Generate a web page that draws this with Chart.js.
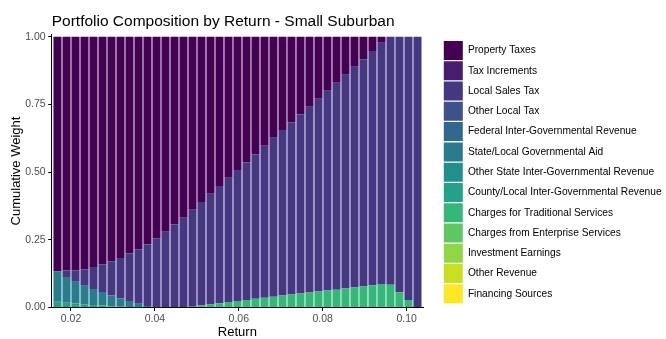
<!DOCTYPE html>
<html>
<head>
<meta charset="utf-8">
<script src="https://cdn.jsdelivr.net/npm/chart.js@4"></script>
<style>
  html, body { margin: 0; padding: 0; background: #ffffff; }
  #wrap { width: 666px; height: 339px; }
</style>
</head>
<body>
<div id="wrap"><canvas id="c" width="666" height="339"></canvas></div>
<script>
// ---- data ----
const returns = [0.01678, 0.01893, 0.02107, 0.02322, 0.02536, 0.02751, 0.02965, 0.03180, 0.03394, 0.03609,
  0.03823, 0.04038, 0.04252, 0.04467, 0.04681, 0.04896, 0.05110, 0.05325, 0.05539, 0.05754,
  0.05968, 0.06183, 0.06397, 0.06612, 0.06826, 0.07041, 0.07255, 0.07470, 0.07684, 0.07899,
  0.08113, 0.08328, 0.08542, 0.08757, 0.08971, 0.09186, 0.09400, 0.09615, 0.09829, 0.10044, 0.10258];

const categories = ["Property Taxes", "Tax Increments", "Local Sales Tax", "Other Local Tax",
  "Federal Inter-Governmental Revenue", "State/Local Governmental Aid",
  "Other State Inter-Governmental Revenue", "County/Local Inter-Governmental Revenue",
  "Charges for Traditional Services", "Charges from Enterprise Services",
  "Investment Earnings", "Other Revenue", "Financing Sources"];

const propertyTaxes = [0.867, 0.863, 0.862, 0.859, 0.850, 0.840, 0.829, 0.817, 0.800, 0.785,
  0.767, 0.744, 0.720, 0.693, 0.669, 0.639, 0.610, 0.580, 0.551, 0.521,
  0.492, 0.464, 0.434, 0.403, 0.373, 0.345, 0.316, 0.287, 0.259, 0.229,
  0.200, 0.170, 0.141, 0.111, 0.083, 0.053, 0.022, 0, 0, 0, 0];
const taxIncrements = [0,0,0,0,0,0,0,0,0,0, 0,0,0,0,0,0,0,0,0,0, 0,0,0,0,0,0,0,0,0,0, 0,0,0,0,0,0,0,0,0,0, 0];
const localSalesTax = [0, 0.024, 0.043, 0.061, 0.082, 0.103, 0.127, 0.149, 0.176, 0.201,
  0.227, 0.255, 0.280, 0.307, 0.331, 0.358, 0.383, 0.409, 0.433, 0.459,
  0.484, 0.508, 0.534, 0.561, 0.587, 0.611, 0.636, 0.661, 0.686, 0.712,
  0.737, 0.764, 0.789, 0.815, 0.839, 0.865, 0.891, 0.916, 0.944, 0.972, 1.000];
const otherLocalTax = [0,0,0,0,0,0,0,0,0,0, 0,0,0,0,0,0,0,0,0,0, 0,0,0,0,0,0,0,0,0,0, 0,0,0,0,0,0,0,0,0,0, 0];
const federalIGR = [0,0,0,0,0,0,0,0,0,0, 0,0,0,0,0,0,0,0,0,0, 0,0,0,0,0,0,0,0,0,0, 0,0,0,0,0,0,0,0,0,0, 0];
const stateLocalAid = [0.112, 0.095, 0.080, 0.068, 0.059, 0.050, 0.039, 0.031, 0.022, 0.013,
  0.006, 0.001, 0,0,0,0,0,0,0,0, 0,0,0,0,0,0,0,0,0,0, 0,0,0,0,0,0,0,0,0,0, 0];
const otherStateIGR = [0,0,0,0,0,0,0,0,0,0, 0,0,0,0,0,0,0,0,0,0, 0,0,0,0,0,0,0,0,0,0, 0,0,0,0,0,0,0,0,0,0, 0];
const countyLocalIGR = [0.021, 0.018, 0.015, 0.012, 0.009, 0.007, 0.005, 0.003, 0.002, 0.001,
  0,0,0,0,0,0,0,0,0,0, 0,0,0,0,0,0,0,0,0,0, 0,0,0,0,0,0,0,0,0,0, 0];
const chargesTraditional = [0,0,0,0,0,0,0,0,0,0, 0,0,0,0,0, 0.003, 0.007, 0.011, 0.016, 0.020,
  0.024, 0.028, 0.032, 0.036, 0.040, 0.044, 0.048, 0.052, 0.055, 0.059,
  0.063, 0.066, 0.070, 0.074, 0.078, 0.082, 0.087, 0.084, 0.056, 0.028, 0];
const chargesEnterprise = [0,0,0,0,0,0,0,0,0,0, 0,0,0,0,0,0,0,0,0,0, 0,0,0,0,0,0,0,0,0,0, 0,0,0,0,0,0,0,0,0,0, 0];
const investmentEarnings = [0,0,0,0,0,0,0,0,0,0, 0,0,0,0,0,0,0,0,0,0, 0,0,0,0,0,0,0,0,0,0, 0,0,0,0,0,0,0,0,0,0, 0];
const otherRevenue = [0,0,0,0,0,0,0,0,0,0, 0,0,0,0,0,0,0,0,0,0, 0,0,0,0,0,0,0,0,0,0, 0,0,0,0,0,0,0,0,0,0, 0];
const financingSources = [0,0,0,0,0,0,0,0,0,0, 0,0,0,0,0,0,0,0,0,0, 0,0,0,0,0,0,0,0,0,0, 0,0,0,0,0,0,0,0,0,0, 0];

const xTickValues = [0.02, 0.04, 0.06, 0.08, 0.10];
const yTickValues = [0, 0.25, 0.50, 0.75, 1.00];

// ---- styling ----
const colors = ["#440154", "#481C6E", "#453781", "#3B528B", "#31688E", "#287C8E", "#21908C",
  "#20A386", "#35B779", "#5DC863", "#8FD744", "#C8E020", "#FDE725"];
const seriesValues = [propertyTaxes, taxIncrements, localSalesTax, otherLocalTax, federalIGR,
  stateLocalAid, otherStateIGR, countyLocalIGR, chargesTraditional, chargesEnterprise,
  investmentEarnings, otherRevenue, financingSources];

const FONT = "'Liberation Sans', Arial, Helvetica, sans-serif";

// ggplot stacks the first level on top, so build datasets bottom-up
const datasets = [];
for (let k = categories.length - 1; k >= 0; k--) {
  datasets.push({
    label: categories[k],
    data: returns.map((r, i) => ({ x: r, y: seriesValues[k][i] })),
    backgroundColor: colors[k],
    borderWidth: 0,
    barPercentage: 0.9,
    categoryPercentage: 1.0
  });
}

const PLOT_LEFT = 51.7, PLOT_RIGHT = 423, PLOT_BOTTOM = 307.5;

const legendPlacer = {
  id: 'legendPlacer',
  beforeDraw(chart) {
    const lg = chart.legend;
    if (!lg) return;
    const pad = lg.options.labels.padding;
    const w = lg.width, h = lg.height;
    lg.left = 443.8 - pad; lg.right = lg.left + w;
    lg.top = 41 - pad; lg.bottom = lg.top + h;
  }
};

const chart = new Chart(document.getElementById('c'), {
  type: 'bar',
  data: { datasets },
  plugins: [legendPlacer],
  options: {
    responsive: false,
    animation: false,
    devicePixelRatio: 1,
    layout: { padding: { left: 0, right: 0, top: 0, bottom: 0 } },
    plugins: {
      tooltip: { enabled: false },
      title: {
        display: true,
        text: 'Portfolio Composition by Return - Small Suburban',
        align: 'start',
        fullSize: false,
        color: '#000000',
        font: { family: FONT, size: 15.5, weight: 'normal' },
        padding: { top: 12, bottom: 3.9 }
      },
      legend: {
        display: true,
        position: 'right',
        align: 'start',
        reverse: true,
        maxWidth: 400,
        labels: {
          boxWidth: 19,
          boxHeight: 19,
          padding: 1.28,
          color: '#000000',
          font: { family: FONT, size: 10.2 }
        }
      }
    },
    scales: {
      x: {
        type: 'linear',
        stacked: true,
        offset: false,
        min: 0.0154,
        max: 0.1039,
        afterBuildTicks: (s) => { s.ticks = xTickValues.map(v => ({ value: v })); },
        afterFit: (s) => { s.height = 339 - PLOT_BOTTOM; },
        ticks: {
          color: '#4D4D4D',
          font: { family: FONT, size: 10.5 },
          padding: 1.5,
          maxRotation: 0,
          autoSkip: false,
          callback: (v) => Number(v).toFixed(2)
        },
        grid: { display: true, drawOnChartArea: false, drawTicks: true, tickLength: 3.5, color: '#000000', lineWidth: 1, offset: false },
        border: { display: true, color: '#000000', width: 1 },
        title: { display: true, text: 'Return', color: '#000000', font: { family: FONT, size: 13 }, padding: { top: 0, bottom: -0.8 } }
      },
      y: {
        type: 'linear',
        stacked: true,
        min: 0,
        max: 1.008,
        afterBuildTicks: (s) => { s.ticks = yTickValues.map(v => ({ value: v })); },
        afterFit: (s) => { s.width = PLOT_LEFT; },
        ticks: {
          color: '#4D4D4D',
          font: { family: FONT, size: 10.5 },
          padding: 2.5,
          callback: (v) => Number(v).toFixed(2)
        },
        grid: { display: true, drawOnChartArea: false, drawTicks: true, tickLength: 3.5, color: '#000000', lineWidth: 1 },
        border: { display: true, color: '#000000', width: 1 },
        title: { display: true, text: 'Cumulative Weight', color: '#000000', font: { family: FONT, size: 13 }, padding: { top: 8.4, bottom: 0 } }
      }
    }
  }
});

// make the plot panel end where the reference panel ends
for (let pass = 0; pass < 3; pass++) {
  const diff = chart.chartArea.right - PLOT_RIGHT;
  if (Math.abs(diff) < 0.1) break;
  chart.options.layout.padding.right = Math.max(0, chart.options.layout.padding.right + diff);
  chart.update();
}
</script>
</body>
</html>
